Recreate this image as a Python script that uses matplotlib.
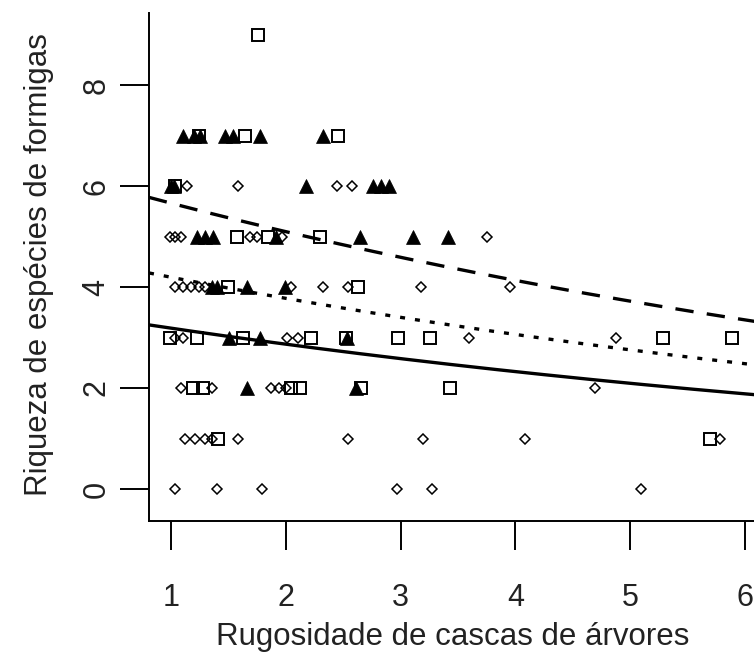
import numpy as np
import matplotlib.pyplot as plt

plt.rcParams['font.family'] = ['Liberation Sans', 'DejaVu Sans']

# diamonds (open)
x_dia = [1.035, 1.40, 1.79, 2.97, 3.27, 5.09,
         1.12, 1.21, 1.30, 1.36, 1.585, 2.54, 3.20, 4.08, 5.78,
         1.09, 1.36, 1.87, 1.94, 2.00, 4.69,
         1.035, 1.105, 2.01, 2.105, 3.60, 4.88,
         1.035, 1.105, 1.175, 1.245, 1.30, 2.045, 2.325, 2.54, 3.18, 3.95,
         0.99, 1.035, 1.09, 1.69, 1.75, 1.97, 3.75,
         1.14, 1.585, 2.445, 2.575]
y_dia = [0]*6 + [1]*9 + [2]*6 + [3]*6 + [4]*10 + [5]*7 + [6]*4

# squares (open)
x_sq = [1.41, 5.695,
        1.19, 1.28, 2.05, 2.125, 2.655, 3.43,
        0.99, 1.225, 1.63, 2.22, 2.525, 2.98, 3.26, 5.29, 5.89,
        1.50, 2.63,
        1.575, 1.845, 2.30,
        1.04,
        1.245, 1.645, 2.455,
        1.76]
y_sq = [1]*2 + [2]*6 + [3]*9 + [4]*2 + [5]*3 + [6]*1 + [7]*3 + [9]*1

# triangles (filled)
x_tri = [1.66, 2.61,
         1.51, 1.775, 2.53,
         1.36, 1.40, 1.66, 1.99,
         1.225, 1.30, 1.365, 1.915, 2.645, 3.11, 3.41,
         1.00, 1.03, 2.175, 2.76, 2.83, 2.90,
         1.105, 1.20, 1.25, 1.47, 1.54, 1.775, 2.325]
y_tri = [2]*2 + [3]*3 + [4]*4 + [5]*7 + [6]*6 + [7]*7

# poisson fits: log(mu) = a + b*x
b_fit = -0.105
a_solid = 1.264
a_dotted = 1.539
a_dashed = 1.839

fig = plt.figure(figsize=(7.54, 6.57), dpi=100)
ax = fig.add_axes([149/754, 136/657, 619/754, 508/657])

ax.plot(x_dia, y_dia, 'D', ms=5.6, mfc='none', mec='black', mew=1.1, ls='none')
ax.plot(x_sq, y_sq, 's', ms=8.0, mfc='none', mec='black', mew=1.4, ls='none')
ax.plot(x_tri, y_tri, '^', ms=9.5, mfc='black', mec='black', mew=0.5, ls='none')

xx = np.linspace(0.81, 6.2, 200)
ax.plot(xx, np.exp(a_solid + b_fit*xx), color='black', lw=2.4, solid_capstyle='butt')
ax.plot(xx, np.exp(a_dotted + b_fit*xx), color='black', lw=2.4, dashes=(1.5, 3.0))
ax.plot(xx, np.exp(a_dashed + b_fit*xx), color='black', lw=2.4, dashes=(5.5, 4.0))

ax.set_xlim(0.81, 6.20)
ax.set_ylim(-0.634, 9.43)
ax.set_xticks([1, 2, 3, 4, 5, 6])
ax.set_yticks([0, 2, 4, 6, 8])

ax.spines['top'].set_visible(False)
ax.spines['right'].set_visible(False)
ax.spines['left'].set_linewidth(1.4)
ax.spines['bottom'].set_linewidth(1.4)

ax.tick_params(axis='both', length=21, width=1.4, labelsize=22, colors='black',
               labelcolor='#222222')
ax.tick_params(axis='x', pad=24)
ax.tick_params(axis='y', pad=6, labelrotation=90)
for lab in ax.get_yticklabels():
    lab.set_va('center')

ax.set_xlabel('Rugosidade de cascas de árvores', fontsize=22.5, color='#222222')
ax.set_ylabel('Riqueza de espécies de formigas', fontsize=22.5, color='#222222')
ax.xaxis.set_label_coords(0.49, -0.228)
ax.xaxis.label.set_va('center')
ax.yaxis.set_label_coords(-0.178, 0.504)
ax.yaxis.label.set_va('center')

fig.savefig('out.png', dpi=100)
